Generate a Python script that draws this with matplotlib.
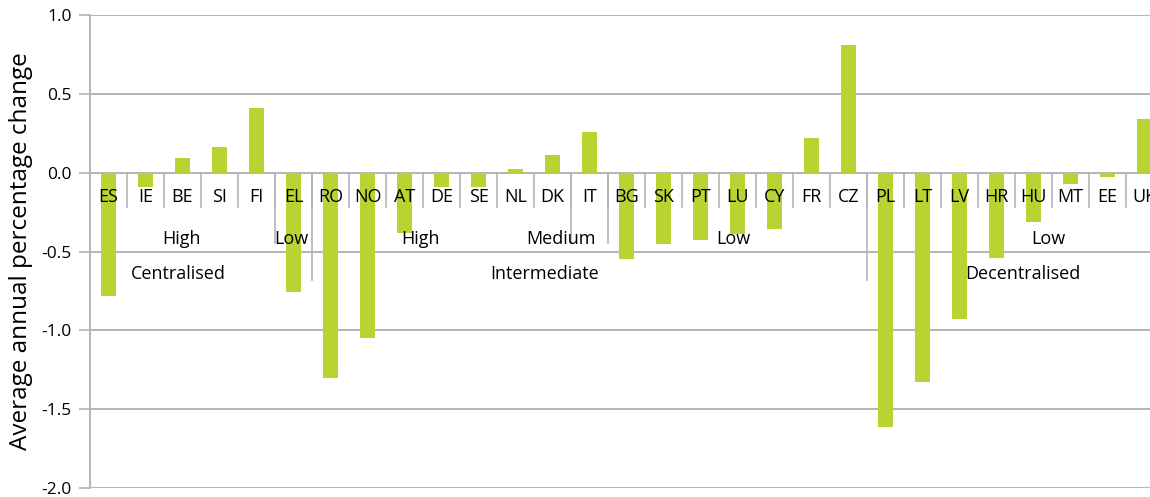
import matplotlib
matplotlib.use("Agg")
import matplotlib.pyplot as plt
import numpy as np

plt.rcParams['font.family'] = ['Open Sans', 'DejaVu Sans']

# ---- data ----
countries = ["ES", "IE", "BE", "SI", "FI", "EL", "RO", "NO", "AT", "DE", "SE",
             "NL", "DK", "IT", "BG", "SK", "PT", "LU", "CY", "FR", "CZ",
             "PL", "LT", "LV", "HR", "HU", "MT", "EE", "UK"]
values = [-0.78, -0.09, 0.09, 0.16, 0.41, -0.76, -1.30, -1.05, -0.38, -0.09, -0.09,
          0.025, 0.11, 0.26, -0.55, -0.45, -0.43, -0.39, -0.36, 0.22, 0.81,
          -1.61, -1.33, -0.93, -0.54, -0.31, -0.075, -0.03, 0.34]
level1_labels = ["High", "Low", "High", "Medium", "Low", "Low"]
level2_labels = ["Centralised", "Intermediate", "Decentralised"]
y_ticks = [1.0, 0.5, 0.0, -0.5, -1.0, -1.5, -2.0]

# ---- layout ----
level1_x = [1.96, 4.93, 8.42, 12.23, 16.9, 25.4]
level2_x = [1.88, 11.8, 24.7]
level1_sep = [4.5, 12.5, 13.5]
level2_sep = [5.5, 20.5]

bar_color = "#B8D432"
grid_color = "#B4B4B4"

fig = plt.figure(figsize=(11.5, 4.97), dpi=100)
ax = fig.add_axes([90/1150, 1-488/497, (1163-90)/1150, (488-15)/497])

x = np.arange(len(countries))
ax.bar(x, values, width=0.4, color=bar_color, zorder=2)

ax.set_xlim(-0.5, len(countries) - 0.5)
ax.set_ylim(-2.0, 1.0)
ax.set_yticks(y_ticks)
ax.set_yticklabels([f"{v:.1f}" for v in y_ticks], fontsize=12.5)
ax.tick_params(axis='y', length=8, width=1.2, color=grid_color, pad=5)
ax.set_xticks([])

for yv in y_ticks:
    ax.axhline(yv, color=grid_color, lw=1.4, zorder=1)

for s in ["top", "right", "bottom"]:
    ax.spines[s].set_visible(False)
ax.spines["left"].set_color(grid_color)
ax.spines["left"].set_linewidth(1.4)

ax.set_ylabel("Average annual percentage change", fontsize=17.5, labelpad=6)

# category ticks
tick_bottom = -0.22
for b in np.arange(0.5, len(countries) - 0.5, 1.0):
    ax.plot([b, b], [0, tick_bottom], color=grid_color, lw=1.2, zorder=1)
for b in level1_sep:
    ax.plot([b, b], [0, -0.445], color=grid_color, lw=1.2, zorder=1)
for b in level2_sep:
    ax.plot([b, b], [0, -0.68], color=grid_color, lw=1.2, zorder=1)

fs = 13
for xi, c in zip(x, countries):
    ax.text(xi, -0.155, c, ha='center', va='center', fontsize=fs, zorder=5)
for xi, lab in zip(level1_x, level1_labels):
    ax.text(xi, -0.42, lab, ha='center', va='center', fontsize=fs, zorder=5)
for xi, lab in zip(level2_x, level2_labels):
    ax.text(xi, -0.64, lab, ha='center', va='center', fontsize=fs, zorder=5)

fig.savefig("out.png", dpi=100)
